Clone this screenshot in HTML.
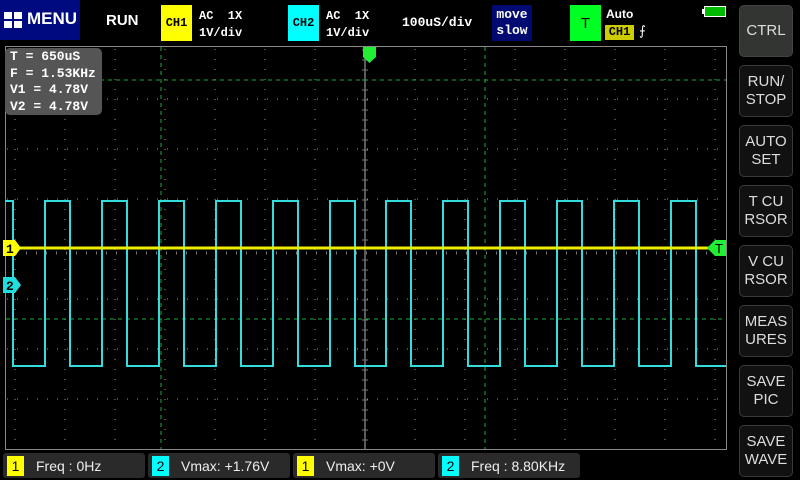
<!DOCTYPE html>
<html><head><meta charset="utf-8"><style>
body{margin:0;width:800px;height:480px;background:#000;overflow:hidden;font-family:"Liberation Mono","DejaVu Sans Mono",monospace;position:relative;color:#fff}
.a{position:absolute}
.btn{position:absolute;left:739px;width:52px;height:50px;border:1px solid #3a3a3a;border-radius:5px;background:#111;color:#ddd;font:15px "Liberation Sans",sans-serif;display:flex;align-items:center;justify-content:center;text-align:center;line-height:18px}
.bb{position:absolute;top:453px;height:25px;width:142px;background:#2a2a2a;border-radius:3px;font:14px "Liberation Sans",sans-serif;color:#eee;display:flex;align-items:center}
.bb .n{width:17px;height:20px;margin-left:4px;margin-right:12px;color:#000;display:flex;align-items:center;justify-content:center;font-size:14px}
</style></head><body>
<div class="a" style="left:0;top:0;width:80px;height:40px;background:#000a80"></div>
<div class="a" style="left:4px;top:12px;width:8px;height:7px;background:#fff"></div>
<div class="a" style="left:14px;top:12px;width:8px;height:7px;background:#fff"></div>
<div class="a" style="left:4px;top:21px;width:8px;height:7px;background:#fff"></div>
<div class="a" style="left:14px;top:21px;width:8px;height:7px;background:#fff"></div>
<div class="a" style="left:27px;top:9px;font:bold 17px 'Liberation Sans',sans-serif">MENU</div>
<div class="a" style="left:106px;top:12px;font:bold 15px 'Liberation Sans',sans-serif">RUN</div>
<div class="a" style="left:161px;top:5px;width:31px;height:36px;background:#ffff00;color:#000;font-size:12px;font-weight:bold;display:flex;align-items:center;justify-content:center">CH1</div>
<div class="a" style="left:199px;top:8px;font-size:12px;line-height:17px;font-weight:bold;white-space:pre">AC  1X
1V/div</div>
<div class="a" style="left:288px;top:5px;width:31px;height:36px;background:#00ffff;color:#000;font-size:12px;font-weight:bold;display:flex;align-items:center;justify-content:center">CH2</div>
<div class="a" style="left:326px;top:8px;font-size:12px;line-height:17px;font-weight:bold;white-space:pre">AC  1X
1V/div</div>
<div class="a" style="left:402px;top:15px;font-size:13px;font-weight:bold">100uS/div</div>
<div class="a" style="left:492px;top:5px;width:40px;height:36px;background:#000a70;font-size:13px;font-weight:bold;line-height:16px;text-align:center;padding-top:2px;box-sizing:border-box">move<br>slow</div>
<div class="a" style="left:570px;top:5px;width:31px;height:36px;background:#00ff22;color:#000;font:15px 'Liberation Sans',sans-serif;display:flex;align-items:center;justify-content:center">T</div>
<div class="a" style="left:606px;top:7px;font:bold 12px 'Liberation Sans',sans-serif">Auto</div>
<div class="a" style="left:605px;top:25px;width:29px;height:15px;background:#cccc00;color:#000;font-size:12px;font-weight:bold;text-align:center;line-height:15px">CH1</div>
<div class="a" style="left:639px;top:24px;font-size:13px">⨍</div>
<div class="a" style="left:704px;top:6px;width:22px;height:11px;background:#fff"></div>
<div class="a" style="left:705px;top:7px;width:20px;height:9px;background:#00bb00"></div>
<div class="a" style="left:702px;top:9px;width:3px;height:5px;background:#fff"></div>

<div class="btn" style="top:5px;background:#333533;border-color:#444">CTRL</div>
<div class="btn" style="top:65px">RUN/<br>STOP</div>
<div class="btn" style="top:125px">AUTO<br>SET</div>
<div class="btn" style="top:185px">T CU<br>RSOR</div>
<div class="btn" style="top:245px">V CU<br>RSOR</div>
<div class="btn" style="top:305px">MEAS<br>URES</div>
<div class="btn" style="top:365px">SAVE<br>PIC</div>
<div class="btn" style="top:425px">SAVE<br>WAVE</div>

<svg class="a" style="left:0;top:0" width="800" height="480">
<rect x="5.5" y="46.5" width="721" height="403" fill="none" stroke="#888" stroke-width="1"/>
<g stroke="#999" stroke-width="1" stroke-dasharray="1 9">
<path d="M15 49V449M65 49V449M115 49V449M165 49V449M215 49V449M265 49V449M315 49V449M415 49V449M465 49V449M515 49V449M565 49V449M615 49V449M665 49V449M715 49V449"/>
<path d="M7 99H726M7 149H726M7 199H726M7 299H726M7 349H726M7 399H726"/>
</g>
<line x1="365" y1="47" x2="365" y2="449" stroke="#777" stroke-width="1.5"/>
<path d="M362 50 h6 M362 60 h6 M362 70 h6 M362 80 h6 M362 90 h6 M362 100 h6 M362 110 h6 M362 120 h6 M362 130 h6 M362 140 h6 M362 150 h6 M362 160 h6 M362 170 h6 M362 180 h6 M362 190 h6 M362 200 h6 M362 210 h6 M362 220 h6 M362 230 h6 M362 240 h6 M362 260 h6 M362 270 h6 M362 280 h6 M362 290 h6 M362 300 h6 M362 310 h6 M362 320 h6 M362 330 h6 M362 340 h6 M362 350 h6 M362 360 h6 M362 370 h6 M362 380 h6 M362 390 h6 M362 400 h6 M362 410 h6 M362 420 h6 M362 430 h6 M362 440 h6" stroke="#777" stroke-width="1"/>
<line x1="6" y1="253" x2="726" y2="253" stroke="#777" stroke-width="3" stroke-dasharray="1 9"/>
<g stroke="#22aa33" stroke-width="1" stroke-dasharray="4 4">
<line x1="161" y1="47" x2="161" y2="449"/><line x1="485" y1="47" x2="485" y2="449"/>
<line x1="100" y1="80" x2="726" y2="80"/><line x1="6" y1="319" x2="726" y2="319"/>
</g>
<path fill="none" stroke="#33dddd" stroke-width="2" d="M5 201H13V366H45V201H70V366H102V201H127V366H159V201H184V366H216V201H241V366H273V201H298V366H330V201H355V366H386V201H411V366H443V201H468V366H500V201H525V366H557V201H582V366H614V201H639V366H671V201H696V366H726"/>
<line x1="20" y1="248" x2="712" y2="248" stroke="#eeee00" stroke-width="3"/>
<path d="M3 240h12l6 8l-6 8h-12z" fill="#ffff00"/>
<text x="6" y="253" font-family="Liberation Mono" font-weight="bold" font-size="13" fill="#000">1</text>
<path d="M3 277h12l6 8l-6 8h-12z" fill="#22dddd"/>
<text x="6" y="290" font-family="Liberation Mono" font-weight="bold" font-size="13" fill="#000">2</text>
<path d="M726 240h-11l-8 8l8 8h11z" fill="#22ee33"/>
<text x="715" y="253" font-family="Liberation Sans" font-size="13" fill="#000">T</text>
<path d="M363 47h13v10l-6.5 6l-6.5-6z" fill="#22ee33"/>
</svg>
<div class="a" style="left:5px;top:48px;width:97px;height:67px;background:#555;border-radius:5px;font-size:13px;line-height:16.5px;font-weight:bold;padding:1px 0 0 5px;box-sizing:border-box;white-space:pre">T = 650uS
F = 1.53KHz
V1 = 4.78V
V2 = 4.78V</div>

<div class="bb" style="left:3px"><span class="n" style="background:#ffff00">1</span>Freq : 0Hz</div>
<div class="bb" style="left:148px"><span class="n" style="background:#00ffff">2</span>Vmax: +1.76V</div>
<div class="bb" style="left:293px"><span class="n" style="background:#ffff00">1</span>Vmax: +0V</div>
<div class="bb" style="left:438px"><span class="n" style="background:#00ffff">2</span>Freq : 8.80KHz</div>
</body></html>
